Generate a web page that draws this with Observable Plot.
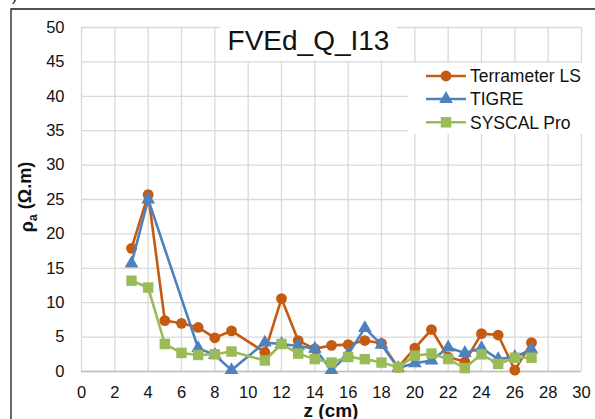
<!DOCTYPE html>
<html><head><meta charset="utf-8">
<script src="https://cdn.jsdelivr.net/npm/d3@7"></script>
<script src="https://cdn.jsdelivr.net/npm/@observablehq/plot@0.6"></script>
<style>
body{margin:0;background:#fff;}
#chart{position:relative;width:595px;height:419px;overflow:hidden;}
svg{display:block;}
</style></head><body><div id="chart"></div>
<script>
const chartTitle = "FVEd_Q_I13";
const xLabel = "z (cm)";
const seriesNames = ["Terrameter LS", "TIGRE", "SYSCAL Pro"];
const seriesColors = ["#C55A11", "#4F81BD", "#9BBB59"];
const seriesSymbols = ["circle", "triangle", "square"];
const seriesRadius = [5.4, 5.1, 5.9];

const zTerr   = [3,4,5,6,7,8,9,11,12,13,14,15,16,17,18,19,20,21,22,23,24,25,26,27];
const rhoTerr = [17.9,25.7,7.4,7.0,6.4,4.9,5.9,2.8,10.6,4.5,3.3,3.8,3.9,4.5,4.1,0.6,3.4,6.1,2.1,1.4,5.5,5.3,0.2,4.2];

const zTigre   = [3,4,7,8,9,11,12,13,14,15,16,17,18,19,20,21,22,23,24,25,26,27];
const rhoTigre = [15.7,25.0,3.4,2.4,0.2,4.2,4.0,3.7,3.3,0.2,2.5,6.3,3.9,0.5,1.2,1.6,3.5,2.7,3.4,1.8,2.1,3.2];

const zSyscal   = [3,4,5,6,7,8,9,11,12,13,14,15,16,17,18,19,20,21,22,23,24,25,26,27];
const rhoSyscal = [13.2,12.2,4.0,2.7,2.4,2.5,2.9,1.6,4.0,2.6,1.8,1.3,2.1,1.8,1.3,0.6,2.3,2.6,1.8,0.5,2.5,1.1,2.0,2.0];

const xTicks = [0,2,4,6,8,10,12,14,16,18,20,22,24,26,28,30];
const yTicks = [0,5,10,15,20,25,30,35,40,45,50];

const zs = [zTerr, zTigre, zSyscal];
const rhos = [rhoTerr, rhoTigre, rhoSyscal];
const series = seriesNames.map((name, i) => zs[i].map((z, j) => ({z, rho: rhos[i][j], name})));

const FONT = "'Liberation Sans', Arial, sans-serif";
const W = 595, H = 419, mL = 81, mR = 14, mT = 27, mB = 48;

const marks = [
  Plot.gridX(xTicks, {stroke: "#d9d9d9", strokeOpacity: 1, strokeWidth: 1.3}),
  Plot.gridY(yTicks, {stroke: "#d9d9d9", strokeOpacity: 1, strokeWidth: 1.3}),
  Plot.ruleY([0], {stroke: "#bfbfbf", strokeWidth: 1.3}),
  Plot.axisX(xTicks, {tickSize: 0, tickPadding: 15, label: null, fill: "#111"}),
  Plot.axisY(yTicks, {tickSize: 0, tickPadding: 17, label: null, fill: "#111"})
];
series.forEach((d, i) => {
  marks.push(Plot.line(d, {x: "z", y: "rho", stroke: seriesColors[i], strokeWidth: 2.6, strokeLinejoin: "round"}));
  marks.push(Plot.dot(d, {x: "z", y: "rho", symbol: () => seriesSymbols[i], r: seriesRadius[i], fill: seriesColors[i], stroke: "none"}));
});

const svgEl = Plot.plot({
  width: W, height: H,
  marginLeft: mL, marginRight: mR, marginTop: mT, marginBottom: mB,
  style: {fontFamily: FONT, fontSize: "16.5px", color: "#111", background: "#fff", overflow: "visible"},
  x: {domain: [0, 30]},
  y: {domain: [0, 50]},
  symbol: {type: "identity"},
  marks
});
document.getElementById("chart").appendChild(svgEl);

const svg = d3.select(svgEl);

// outer frame (cropped)
svg.append("path").attr("d", `M11,${H} V9 H${W}`).attr("fill", "none").attr("stroke", "#1a1a1a").attr("stroke-width", 1.3);
svg.append("text").attr("x", 12).attr("y", 1).attr("text-anchor", "start").attr("font-family", FONT).attr("font-size", 16).attr("fill", "#111").text(")");

// title box
svg.append("rect").attr("x", 220).attr("y", 25).attr("width", 177).attr("height", 36).attr("fill", "#fff");
svg.append("text").attr("x", 308.5).attr("y", 50).attr("text-anchor", "middle")
  .attr("font-family", FONT).attr("font-size", 28).attr("fill", "#111").text(chartTitle);

// legend
svg.append("rect").attr("x", 408).attr("y", 63).attr("width", 176).attr("height", 71).attr("fill", "#fff");
const legY = [76, 99, 122.3];
seriesNames.forEach((name, i) => {
  const g = svg.append("g").attr("transform", `translate(0,${legY[i]})`);
  g.append("line").attr("x1", 426).attr("x2", 466).attr("y1", 0).attr("y2", 0)
    .attr("stroke", seriesColors[i]).attr("stroke-width", 2.6);
  const symType = {circle: d3.symbolCircle, triangle: d3.symbolTriangle, square: d3.symbolSquare}[seriesSymbols[i]];
  g.append("path").attr("transform", "translate(446,0)")
    .attr("d", d3.symbol().type(symType).size(Math.PI * seriesRadius[i] * seriesRadius[i])())
    .attr("fill", seriesColors[i]);
  g.append("text").attr("x", 470).attr("y", 0).attr("dy", "0.36em").attr("text-anchor", "start")
    .attr("font-family", FONT).attr("font-size", 17.5).attr("fill", "#111").text(name);
});

// y axis title
const yt = svg.append("text").attr("transform", "translate(33,197) rotate(-90)")
  .attr("text-anchor", "middle").attr("font-family", FONT).attr("font-size", 18)
  .attr("font-weight", "bold").attr("fill", "#111");
yt.append("tspan").text("ρ");
yt.append("tspan").attr("dy", "0.3em").attr("font-size", 12).text("a");
yt.append("tspan").attr("dy", "-0.3em").text(" (Ω.m)");

// x axis title
svg.append("text").attr("x", 331).attr("y", 416.5).attr("text-anchor", "middle")
  .attr("font-family", FONT).attr("font-size", 19).attr("font-weight", "bold").attr("fill", "#111").text(xLabel);
</script></body></html>
